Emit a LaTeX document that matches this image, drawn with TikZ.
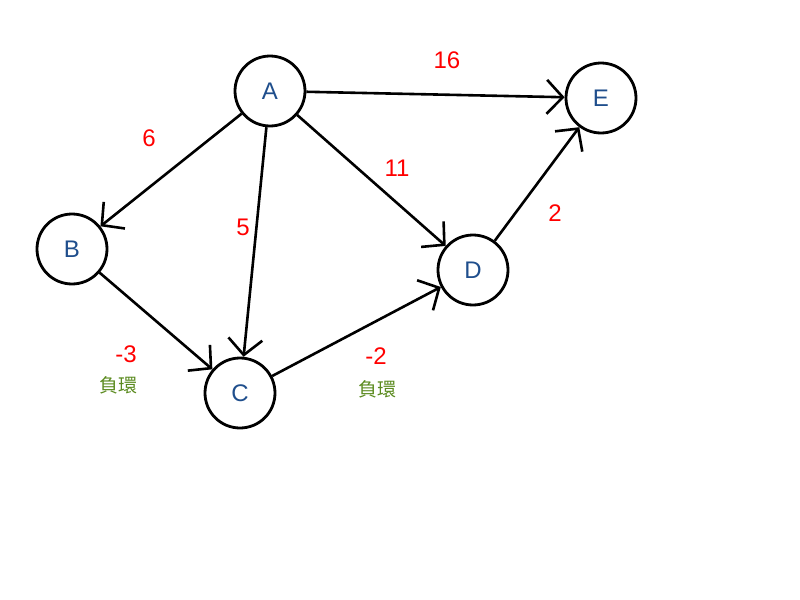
\documentclass[tikz,border=0pt]{standalone}
\usepackage{fontspec}
\setmainfont{Liberation Sans}
\newfontfamily\cjk{Noto Sans CJK TC}
\usetikzlibrary{arrows.meta}

\definecolor{nodeblue}{HTML}{1F4E8C}
\definecolor{weightred}{HTML}{FF0000}
\definecolor{loopgreen}{HTML}{5A8A1E}

\begin{document}
\begin{tikzpicture}[
  x=0.5pt, y=-0.5pt,
  vertex/.style={circle, draw=black, line width=1.4pt, minimum size=35pt, inner sep=0pt,
                 text=nodeblue, font=\fontsize{12}{14}\selectfont},
  edge/.style={line width=1.3pt, -{Straight Barb[length=8pt, width=17pt, line width=1.3pt]}},
  weight/.style={text=weightred, font=\fontsize{12}{14}\selectfont},
  negloop/.style={text=loopgreen, font=\cjk\fontsize{9.5}{11}\selectfont},
]

%% ============ BOUNDING BOX ============
\useasboundingbox (0,0) rectangle (800,600);

%% ============ VERTICES ============
\node[vertex] (A) at (270,91)  {A};
\node[vertex] (B) at (72,249)  {B};
\node[vertex] (C) at (240,393) {C};
\node[vertex] (D) at (473,270) {D};
\node[vertex] (E) at (601,98)  {E};

%% ============ EDGES ============
\draw[edge] (A) -- (E);
\draw[edge] (A) -- (B);
\draw[edge] (A) -- (C);
\draw[edge] (A) -- (D);
\draw[edge] (B) -- (C);
\draw[edge] (C) -- (D);
\draw[edge] (D) -- (E);

%% ============ WEIGHTS ============
\node[weight] (wAE) at (447,60)  {16};
\node[weight] (wAB) at (149,138) {6};
\node[weight] (wAD) at (397,168) {11};
\node[weight] (wAC) at (243,227) {5};
\node[weight] (wDE) at (555,213) {2};
\node[weight] (wBC) at (126,354) {-3};
\node[weight] (wCD) at (376,356) {-2};

%% ---- negative cycle marks ----
\node[negloop] (nBC) at (118,385) {負環};
\node[negloop] (nCD) at (377,389) {負環};

\end{tikzpicture}
\end{document}
